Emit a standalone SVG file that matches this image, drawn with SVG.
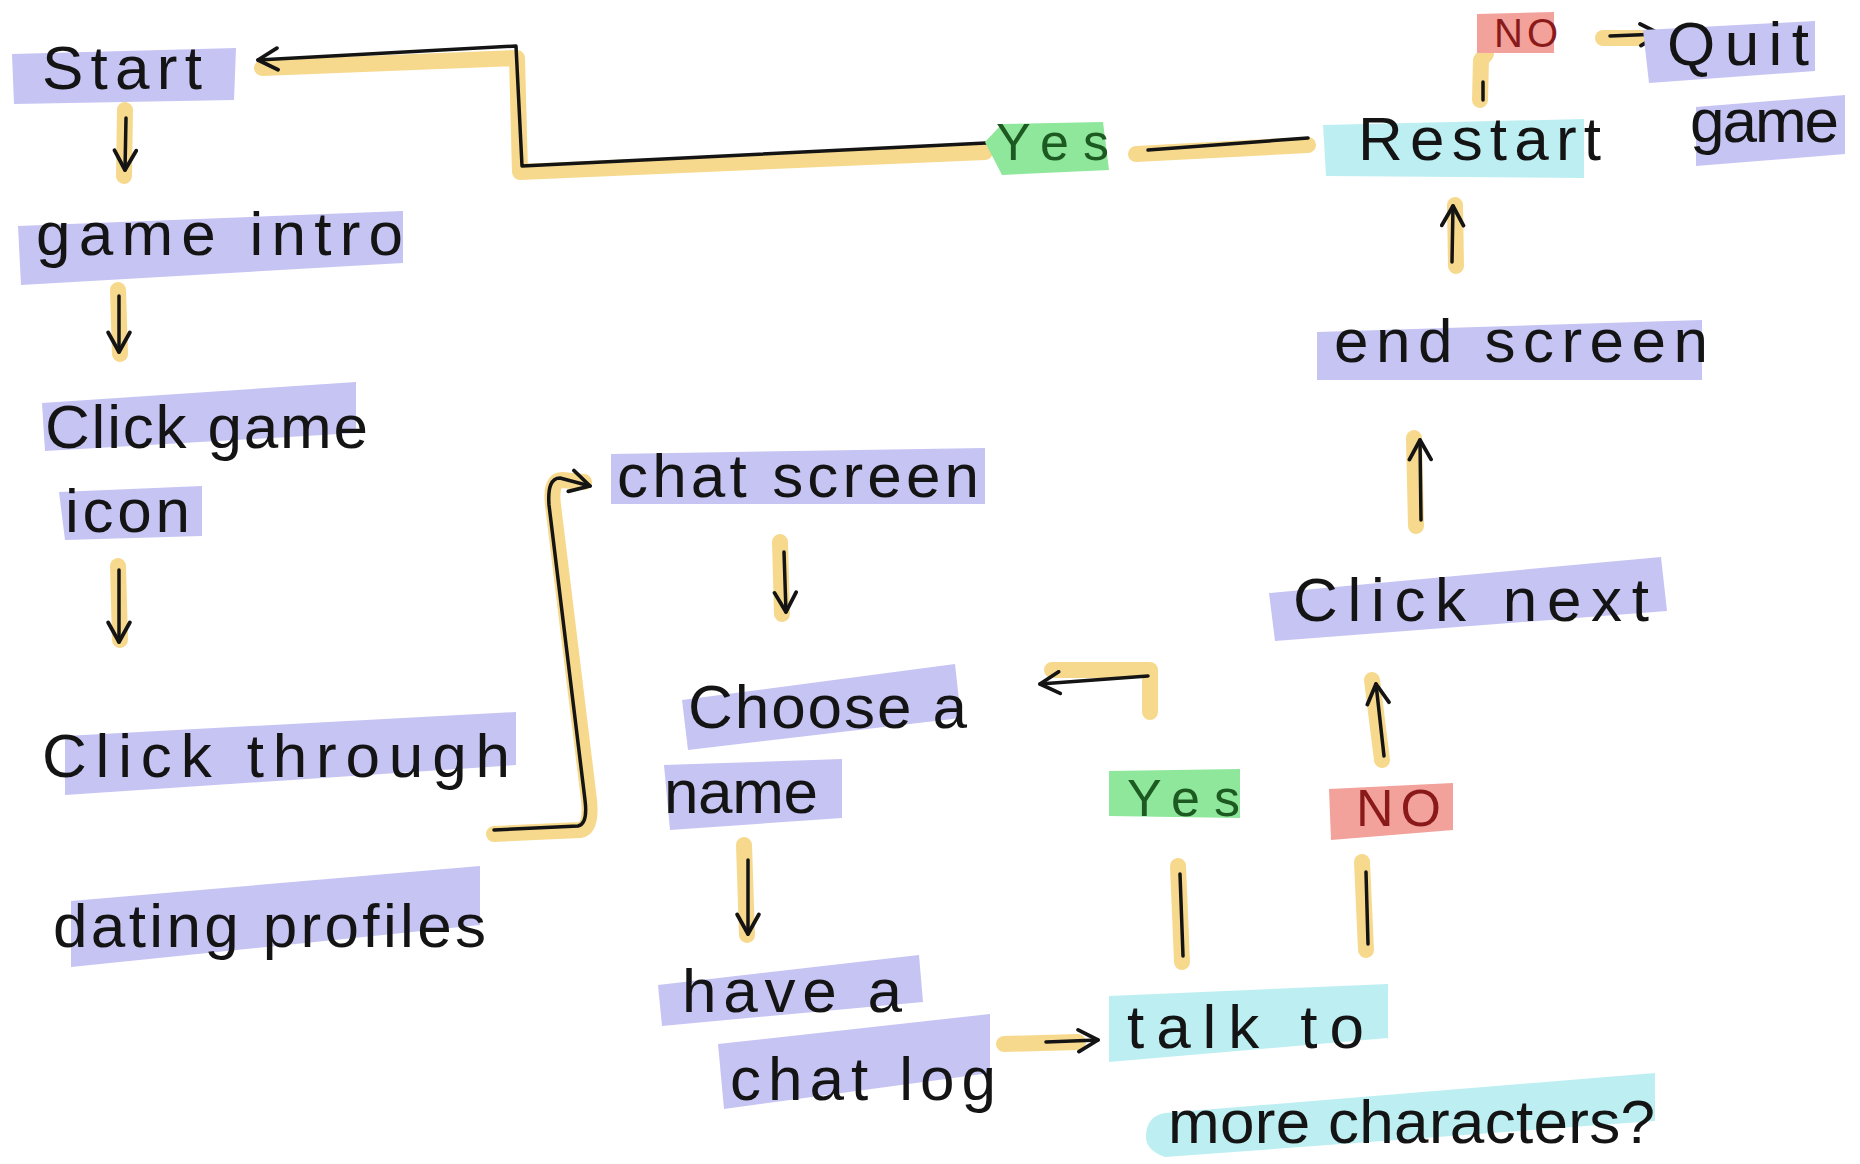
<svg xmlns="http://www.w3.org/2000/svg" width="1860" height="1164" viewBox="0 0 1860 1164">
<defs>
<style>
.hl{fill:#c6c4f3}
.hc{fill:#bdeff2}
.hg{fill:#8fe79b}
.hr{fill:#f2a19b}
.t{font-family:"Liberation Sans","DejaVu Sans",sans-serif;font-size:62px;fill:#141414}
.s{font-size:52px}
.xs{font-size:40px}
.rd{fill:#8a1a1a}
.gr{fill:#1d5a22}
.y{stroke:#f6d98d;stroke-width:16;fill:none;stroke-linecap:round;stroke-linejoin:round}
.k{stroke:#141414;stroke-width:3.5;fill:none;stroke-linecap:round;stroke-linejoin:round}
</style>
<marker id="ah" viewBox="0 0 24 24" refX="21" refY="12" markerWidth="26" markerHeight="26" markerUnits="userSpaceOnUse" orient="auto">
<path d="M3,2 L21,12 L3,22" fill="none" stroke="#141414" stroke-width="3.5" stroke-linecap="round" stroke-linejoin="round"/>
</marker>
</defs>
<rect width="1860" height="1164" fill="#ffffff"/>

<g id="connectors">
<!-- Start -> game intro -->
<path class="y" d="M125,110 L124,176"/>
<path class="k" d="M126,118 L125,170" marker-end="url(#ah)"/>
<!-- game intro -> Click game -->
<path class="y" d="M118,290 L120,354"/>
<path class="k" d="M119,296 L119,352" marker-end="url(#ah)"/>
<!-- icon -> Click through -->
<path class="y" d="M118,566 L120,640"/>
<path class="k" d="M119,570 L119,642" marker-end="url(#ah)"/>
<!-- dating profiles -> chat screen -->
<path class="y" d="M494,834 L580,830 Q592,828 589,800 L553,505 Q550,480 562,480 L584,482"/>
<path class="k" d="M494,830 L578,826 Q588,824 585,800 L549,505 Q547,478 560,478 L590,486" marker-end="url(#ah)"/>
<!-- chat screen -> Choose a -->
<path class="y" d="M780,542 L782,614"/>
<path class="k" d="M784,552 L786,612" marker-end="url(#ah)"/>
<!-- name -> have a -->
<path class="y" d="M744,845 L747,935"/>
<path class="k" d="M748,860 L748,934" marker-end="url(#ah)"/>
<!-- chat log -> talk to -->
<path class="y" d="M1004,1044 L1078,1042"/>
<path class="k" d="M1046,1042 L1098,1040" marker-end="url(#ah)"/>
<!-- talk to -> Yes -->
<path class="y" d="M1178,866 L1182,962"/>
<path class="k" d="M1180,874 L1183,956"/>
<!-- Yes -> Choose a -->
<path class="y" d="M1150,712 L1150,670 L1052,670"/>
<path class="k" d="M1148,676 L1040,684" marker-end="url(#ah)"/>
<!-- talk to -> NO -->
<path class="y" d="M1362,862 L1366,950"/>
<path class="k" d="M1366,872 L1368,944"/>
<!-- NO -> Click next -->
<path class="y" d="M1372,680 L1382,760"/>
<path class="k" d="M1384,756 L1376,684" marker-end="url(#ah)"/>
<!-- Click next -> end screen -->
<path class="y" d="M1414,438 L1416,526"/>
<path class="k" d="M1421,520 L1420,440" marker-end="url(#ah)"/>
<!-- end screen -> Restart -->
<path class="y" d="M1455,205 L1456,266"/>
<path class="k" d="M1452,262 L1453,206" marker-end="url(#ah)"/>
<!-- Restart -> NO (top) -->
<path class="y" d="M1480,100 L1481,60 L1486,54"/>
<path class="k" d="M1483,82 L1483,100"/>
<!-- NO -> Quit game -->
<path class="y" d="M1603,38 L1652,38"/>
<path class="k" d="M1610,36 L1660,34" marker-end="url(#ah)"/>
<!-- Restart -> Yes (top) -->
<path class="y" d="M1308,145 L1136,154"/>
<path class="k" d="M1308,138 L1148,150"/>
<!-- Yes (top) -> Start -->
<path class="y" d="M985,152 L520,172 L517,58 L262,68"/>
<path class="k" d="M986,143 L522,166 L516,46 L258,60" marker-end="url(#ah)"/>
</g>

<g id="node-start">
<polygon class="hl" points="12,54 236,48 234,100 14,104"/>
<text class="t" x="42" y="89" textLength="160" lengthAdjust="spacing">Start</text>
</g>
<g id="node-game-intro">
<polygon class="hl" points="18,226 403,211 403,263 21,285"/>
<text class="t" x="36" y="255" textLength="367" lengthAdjust="spacing">game intro</text>
</g>
<g id="node-click-game-icon">
<polygon class="hl" points="42,403 356,382 356,433 45,451"/>
<text class="t" x="45" y="448" textLength="323" lengthAdjust="spacing">Click game</text>
<polygon class="hl" points="59,492 202,486 202,536 65,540"/>
<text class="t" x="65" y="532" textLength="125" lengthAdjust="spacing">icon</text>
</g>
<g id="node-click-through">
<polygon class="hl" points="65,736 516,712 516,765 65,795"/>
<text class="t" x="42" y="777" textLength="468" lengthAdjust="spacing">Click through</text>
<polygon class="hl" points="71,901 480,866 480,925 71,967"/>
<text class="t" x="53" y="947" textLength="433" lengthAdjust="spacing">dating profiles</text>
</g>
<g id="node-chat-screen">
<polygon class="hl" points="611,454 985,448 985,504 611,504"/>
<text class="t" x="617" y="497" textLength="362" lengthAdjust="spacing">chat screen</text>
</g>
<g id="node-choose-name">
<polygon class="hl" points="682,700 955,664 961,718 688,750"/>
<text class="t" x="688" y="728" textLength="279" lengthAdjust="spacing">Choose a</text>
<polygon class="hl" points="664,765 842,759 842,818 670,830"/>
<text class="t" x="664" y="813" textLength="154" lengthAdjust="spacing">name</text>
</g>
<g id="node-chat-log">
<polygon class="hl" points="658,985 919,955 923,1002 662,1026"/>
<text class="t" x="682" y="1012" textLength="220" lengthAdjust="spacing">have a</text>
<polygon class="hl" points="718,1044 990,1014 990,1073 724,1109"/>
<text class="t" x="730" y="1100" textLength="266" lengthAdjust="spacing">chat log</text>
</g>
<g id="node-talk-more">
<polygon class="hc" points="1109,996 1388,984 1388,1038 1109,1062"/>
<text class="t" x="1127" y="1048" textLength="237" lengthAdjust="spacing">talk to</text>
<path class="hc" d="M1165,1113 L1655,1073 L1655,1121 L1165,1157 Q1145,1150 1146,1135 Q1147,1116 1165,1113 Z"/>
<text class="t" x="1168" y="1143" textLength="487" lengthAdjust="spacing">more characters?</text>
</g>
<g id="label-yes-low">
<polygon class="hg" points="1109,771 1240,769 1240,818 1109,816"/>
<text class="t s gr" x="1127" y="816" textLength="113" lengthAdjust="spacing">Yes</text>
</g>
<g id="label-no-low">
<polygon class="hr" points="1329,789 1453,783 1453,830 1331,840"/>
<text class="t s rd" x="1356" y="826" textLength="85" lengthAdjust="spacing">NO</text>
</g>
<g id="node-click-next">
<polygon class="hl" points="1269,593 1661,557 1667,611 1275,641"/>
<text class="t" x="1293" y="621" textLength="356" lengthAdjust="spacing">Click next</text>
</g>
<g id="node-end-screen">
<polygon class="hl" points="1317,332 1702,320 1702,380 1317,380"/>
<text class="t" x="1334" y="362" textLength="374" lengthAdjust="spacing">end screen</text>
</g>
<g id="node-restart">
<polygon class="hc" points="1323,125 1584,119 1584,178 1326,176"/>
<text class="t" x="1358" y="160" textLength="243" lengthAdjust="spacing">Restart</text>
</g>
<g id="label-no-top">
<polygon class="hr" points="1477,14 1554,12 1554,53 1477,53"/>
<text class="t xs rd" x="1494" y="47" textLength="64" lengthAdjust="spacing">NO</text>
</g>
<g id="node-quit-game">
<polygon class="hl" points="1643,30 1815,21 1815,71 1649,83"/>
<text class="t" x="1667" y="65" textLength="142" lengthAdjust="spacing">Quit</text>
<polygon class="hl" points="1696,107 1845,95 1845,154 1696,166"/>
<text class="t" x="1690" y="142" textLength="149" lengthAdjust="spacing">game</text>
</g>
<g id="label-yes-top">
<polygon class="hg" points="985,142 1002,124 1103,122 1109,170 1002,175"/>
<text class="t s gr" x="996" y="160" textLength="113" lengthAdjust="spacing">Yes</text>
</g>
</svg>
